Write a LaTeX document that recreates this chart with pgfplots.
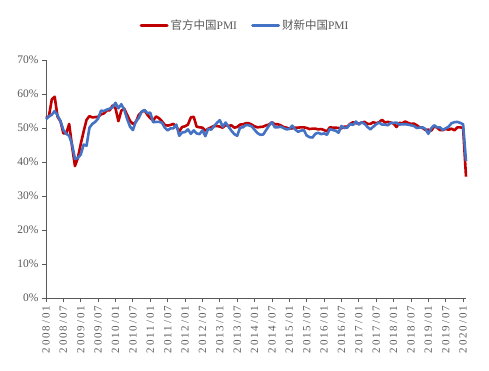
\documentclass[border=0pt]{standalone}
\usepackage{pgfplots}
\pgfplotsset{compat=1.18}
\usetikzlibrary{calc}
\usepackage{fontspec}
\setmainfont{Liberation Serif}
\newfontfamily\cjk{Noto Sans CJK SC}
\newfontfamily\tickfont[LetterSpace=18]{Liberation Serif}
\definecolor{pred}{HTML}{C00000}
\definecolor{pblue}{HTML}{4472C4}
\definecolor{tgray}{HTML}{595959}
\begin{document}
\begin{tikzpicture}
\begin{axis}[
  name=ax,
  scale only axis,
  width=420pt, height=238pt,
  xmin=0, xmax=145,
  ymin=0, ymax=70,
  axis x line*=bottom,
  axis y line*=left,
  axis line style={draw=tgray, line width=0.8pt},
  xtick={0,6,...,144},
  xticklabels={2008/01,2008/07,2009/01,2009/07,2010/01,2010/07,2011/01,2011/07,2012/01,2012/07,2013/01,2013/07,2014/01,2014/07,2015/01,2015/07,2016/01,2016/07,2017/01,2017/07,2018/01,2018/07,2019/01,2019/07,2020/01},
  xticklabel style={rotate=90, anchor=east, font=\tickfont\fontsize{11}{11}\selectfont, text=tgray},
  ytick={0,10,...,70},
  yticklabel={\pgfmathprintnumber{\tick}\%},
  yticklabel style={font=\fontsize{11.5}{12}\selectfont, text=tgray},
  /pgf/number format/assume math mode=true,
  tick align=outside,
  major tick length=4pt,
  tick style={draw=tgray, line width=0.8pt},
  legend columns=2,
  legend style={draw=none, at={(0.474,1.145)}, anchor=center, font=\fontsize{11.5}{12}\selectfont, text=tgray,
    /tikz/every even column/.append style={column sep=12pt}},
  legend image code/.code={\draw[#1, line width=3pt, line cap=round] (0pt,0pt) -- (26pt,0pt);},
  clip=false,
]
\addplot[pred, line width=2.6pt, line join=round] coordinates {
(0,53.0)(1,53.4)(2,58.4)(3,59.2)(4,53.3)(5,52.0)(6,48.4)(7,48.4)(8,51.2)(9,44.6)(10,38.8)(11,41.2)
(12,45.3)(13,49.0)(14,52.4)(15,53.5)(16,53.1)(17,53.2)(18,53.3)(19,54.0)(20,54.3)(21,55.2)(22,55.2)(23,56.6)
(24,55.8)(25,52.0)(26,55.1)(27,55.7)(28,53.9)(29,52.1)(30,51.2)(31,51.7)(32,53.8)(33,54.7)(34,55.2)(35,53.9)
(36,52.9)(37,52.2)(38,53.4)(39,52.9)(40,52.0)(41,50.9)(42,50.7)(43,50.9)(44,51.2)(45,50.4)(46,49.0)(47,50.3)
(48,50.5)(49,51.0)(50,53.1)(51,53.3)(52,50.4)(53,50.2)(54,50.1)(55,49.2)(56,49.8)(57,50.2)(58,50.6)(59,50.6)
(60,50.4)(61,50.1)(62,50.9)(63,50.6)(64,50.8)(65,50.1)(66,50.3)(67,51.0)(68,51.1)(69,51.4)(70,51.4)(71,51.0)
(72,50.5)(73,50.2)(74,50.3)(75,50.4)(76,50.8)(77,51.0)(78,51.7)(79,51.1)(80,51.1)(81,50.8)(82,50.3)(83,50.1)
(84,49.8)(85,49.9)(86,50.1)(87,50.1)(88,50.2)(89,50.2)(90,50.0)(91,49.7)(92,49.8)(93,49.8)(94,49.6)(95,49.7)
(96,49.4)(97,49.0)(98,50.2)(99,50.1)(100,50.1)(101,50.0)(102,49.9)(103,50.4)(104,50.4)(105,51.2)(106,51.7)(107,51.4)
(108,51.3)(109,51.6)(110,51.8)(111,51.2)(112,51.2)(113,51.7)(114,51.4)(115,51.7)(116,52.4)(117,51.6)(118,51.8)(119,51.6)
(120,51.3)(121,50.3)(122,51.5)(123,51.4)(124,51.9)(125,51.5)(126,51.2)(127,51.3)(128,50.8)(129,50.2)(130,50.0)(131,49.4)
(132,49.5)(133,49.2)(134,50.5)(135,50.1)(136,49.4)(137,49.4)(138,49.7)(139,49.5)(140,49.8)(141,49.3)(142,50.2)(143,50.2)
(144,50.0)(145,35.7)
};
\addlegendentry{{\cjk 官方中国}PMI}
\addplot[pblue, line width=2.6pt, line join=round] coordinates {
(0,52.6)(1,53.4)(2,53.9)(3,55.0)(4,53.7)(5,52.0)(6,49.4)(7,48.3)(8,47.7)(9,45.2)(10,40.9)(11,41.2)
(12,42.2)(13,45.1)(14,44.8)(15,50.1)(16,51.2)(17,51.8)(18,52.8)(19,55.1)(20,55.0)(21,55.4)(22,55.7)(23,56.1)
(24,57.4)(25,55.8)(26,57.0)(27,55.4)(28,52.7)(29,50.4)(30,49.4)(31,51.9)(32,52.9)(33,54.8)(34,55.3)(35,54.4)
(36,54.5)(37,51.7)(38,51.8)(39,51.8)(40,51.6)(41,50.1)(42,49.3)(43,49.9)(44,49.9)(45,51.0)(46,47.7)(47,48.7)
(48,48.8)(49,49.6)(50,48.3)(51,49.3)(52,48.4)(53,48.2)(54,49.3)(55,47.6)(56,49.8)(57,49.5)(58,50.5)(59,51.5)
(60,52.3)(61,50.4)(62,51.6)(63,50.4)(64,49.2)(65,48.2)(66,47.7)(67,50.1)(68,50.2)(69,50.9)(70,50.8)(71,50.5)
(72,49.5)(73,48.5)(74,48.0)(75,48.1)(76,49.4)(77,50.7)(78,51.7)(79,50.2)(80,50.2)(81,50.4)(82,50.0)(83,49.6)
(84,49.7)(85,50.7)(86,49.6)(87,48.9)(88,49.2)(89,49.4)(90,47.8)(91,47.3)(92,47.2)(93,48.3)(94,48.6)(95,48.2)
(96,48.4)(97,48.0)(98,49.7)(99,49.4)(100,49.2)(101,48.6)(102,50.6)(103,50.0)(104,50.1)(105,51.2)(106,50.9)(107,51.9)
(108,51.0)(109,51.7)(110,51.2)(111,50.3)(112,49.6)(113,50.4)(114,51.1)(115,51.6)(116,51.0)(117,51.0)(118,50.8)(119,51.5)
(120,51.5)(121,51.6)(122,51.0)(123,51.1)(124,51.1)(125,51.0)(126,50.8)(127,50.6)(128,50.0)(129,50.1)(130,50.2)(131,49.7)
(132,48.3)(133,49.9)(134,50.8)(135,50.2)(136,50.2)(137,49.4)(138,49.9)(139,50.4)(140,51.4)(141,51.7)(142,51.8)(143,51.5)
(144,51.1)(145,40.3)
};
\addlegendentry{{\cjk 财新中国}PMI}
\end{axis}
\pgfresetboundingbox
\path (ax.south west) ++(-46pt,-73pt) rectangle ($(ax.north west)+(443pt,60pt)$);
\end{tikzpicture}
\end{document}
